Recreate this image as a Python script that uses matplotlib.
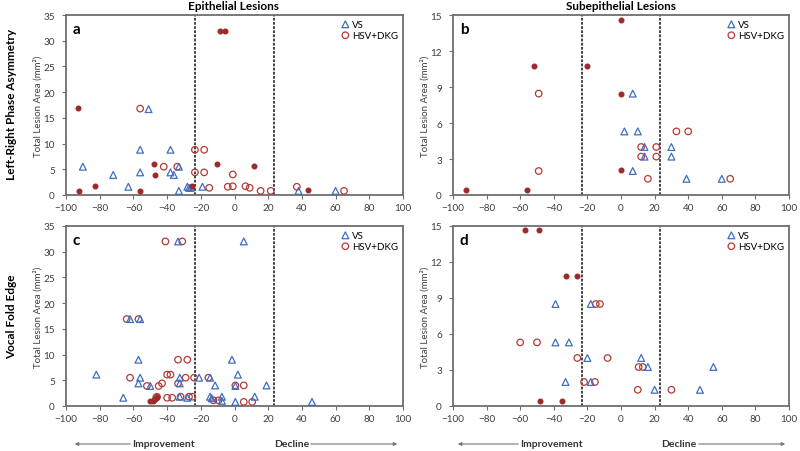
import matplotlib
matplotlib.use("Agg")
import matplotlib.pyplot as plt

plt.rcParams['font.family'] = ['Lato', 'DejaVu Sans']

# ---------------- data ----------------
x_ticks = [-100, -80, -60, -40, -20, 0, 20, 40, 60, 80, 100]
y_ticks_epi = [0, 5, 10, 15, 20, 25, 30, 35]
y_ticks_sub = [0, 3, 6, 9, 12, 15]
thresholds = [-23.3, 23.3]

# Panel a: Left-Right Phase Asymmetry, Epithelial
a_vs_x = [-90, -72, -63, -56, -56, -51, -38, -38, -36, -33, -33, -28, -27, -26, -19, 38, 60]
a_vs_y = [5.5, 3.9, 1.6, 8.8, 4.4, 16.7, 8.8, 4.4, 3.9, 5.5, 0.8, 1.6, 1.4, 1.4, 1.6, 0.8, 0.8]
a_hsv_x = [-56, -42, -34, -23.5, -18, -23.5, -18, -15, -4, -1, -1, 6.5, 9, 15.5, 21.5, 37, 65]
a_hsv_y = [16.8, 5.5, 5.5, 8.8, 8.8, 4.4, 4.4, 1.4, 1.6, 1.7, 4.0, 1.7, 1.4, 0.8, 0.8, 1.6, 0.8]
a_fill_x = [-93, -92, -83, -56, -48, -47, -25.5, -10.5, -8.5, -5.5, 11.5, 43.5]
a_fill_y = [16.9, 0.8, 1.8, 0.8, 6.1, 3.9, 1.8, 6.1, 31.9, 31.9, 5.6, 1.0]

# Panel b: Left-Right Phase Asymmetry, Subepithelial
b_vs_x = [7, 2, 10, 14, 14, 30, 30, 7, 39, 60]
b_vs_y = [8.45, 5.3, 5.3, 4.0, 3.2, 4.0, 3.2, 2.0, 1.35, 1.35]
b_hsv_x = [-49, -49, 12, 12, 21, 21, 16, 33, 40, 65]
b_hsv_y = [8.45, 2.0, 4.0, 3.2, 4.0, 3.2, 1.35, 5.3, 5.3, 1.35]
b_fill_x = [0, -52, -20, 0, 0, -92, -56]
b_fill_y = [14.55, 10.75, 10.75, 8.45, 2.05, 0.45, 0.45]

# Panel c: Vocal Fold Edge, Epithelial
c_vs_x = [-33.5, 5.5, -62, -56, -57, -82, -56, -57, -50, -66, -32.5, -32.5, -32.5, -28,
          -21, -14.5, -11.5, -14.5, -13.5, -7.5, -7.5, -1.5, 2, 0.5, 0.5, 12, 19, 46]
c_vs_y = [32, 32, 16.9, 16.9, 9, 6.1, 5.5, 4.4, 3.9, 1.6, 5.5, 4.4, 1.8, 1.6,
          5.5, 5.5, 4.0, 1.8, 1.5, 1.8, 1.0, 9, 6.1, 3.9, 0.8, 1.8, 4.0, 0.8]
c_hsv_x = [-41, -31, -64, -57, -33.5, -28, -62, -40, -38, -29, -24, -15.5, -43, -45, -52,
           -33.5, -46.5, -46, -40, -37, -32, -27, -25, 0.5, 5.5, -12.5, -9.5, 5.5, 10.5]
c_hsv_y = [32, 32, 16.9, 16.9, 9, 9, 5.5, 6.1, 6.1, 5.5, 5.5, 5.5, 4.4, 3.9, 3.9,
           4.4, 1.6, 1.8, 1.6, 1.6, 1.8, 1.8, 1.8, 4.0, 4.0, 1.1, 1.1, 0.8, 0.8]
c_fill_x = [-50, -48.5, -47.5, -46.5, -46]
c_fill_y = [0.9, 0.9, 1.2, 1.5, 1.7]

# Panel d: Vocal Fold Edge, Subepithelial
d_vs_x = [-39, -18, -39, -31, -20, 12, 16, 55, -33, -18, 20, 47]
d_vs_y = [8.5, 8.5, 5.3, 5.3, 4.0, 4.0, 3.25, 3.25, 2.0, 2.0, 1.35, 1.35]
d_hsv_x = [-15, -12.5, -60, -50, -26, -8, 10.5, 13, -22, -15.5, 10, 30]
d_hsv_y = [8.5, 8.5, 5.3, 5.3, 4.0, 4.0, 3.25, 3.25, 2.0, 2.0, 1.35, 1.35]
d_fill_x = [-57, -49, -33, -26, -48, -35]
d_fill_y = [14.65, 14.65, 10.8, 10.8, 0.45, 0.45]

# ---------------- style ----------------
BLUE = '#3F6EC2'
RED = '#B23A36'
FILL = '#9E2B2B'
SPINE = '#6E6E6E'
TXT = '#404040'

fig = plt.figure(figsize=(8, 4.52), dpi=100)

W, H = 800.0, 452.0
def rect(l, r, t, b):
    return [l / W, 1 - b / H, (r - l) / W, (b - t) / H]

ax_a = fig.add_axes(rect(66, 403, 16, 196))
ax_b = fig.add_axes(rect(453, 789, 16, 196))
ax_c = fig.add_axes(rect(66, 403, 227, 407))
ax_d = fig.add_axes(rect(453, 789, 227, 407))

panels = [
    (ax_a, 'a', a_vs_x, a_vs_y, a_hsv_x, a_hsv_y, a_fill_x, a_fill_y, y_ticks_epi),
    (ax_b, 'b', b_vs_x, b_vs_y, b_hsv_x, b_hsv_y, b_fill_x, b_fill_y, y_ticks_sub),
    (ax_c, 'c', c_vs_x, c_vs_y, c_hsv_x, c_hsv_y, c_fill_x, c_fill_y, y_ticks_epi),
    (ax_d, 'd', d_vs_x, d_vs_y, d_hsv_x, d_hsv_y, d_fill_x, d_fill_y, y_ticks_sub),
]

for ax, letter, vx, vy, hx, hy, fx, fy, yt in panels:
    ax.set_xlim(-100, 100)
    ax.set_ylim(yt[0], yt[-1])
    ax.set_xticks(x_ticks)
    ax.set_yticks(yt)
    ax.tick_params(labelsize=7.2, length=3, width=0.8, direction='out',
                   colors=SPINE, labelcolor=TXT)
    ax.tick_params(axis='x', pad=3)
    ax.tick_params(axis='y', pad=5)
    for s in ax.spines.values():
        s.set_color(SPINE)
        s.set_linewidth(1.3)
    for t in thresholds:
        ax.axvline(t, color='#333333', lw=1.3, ls=(0, (1.5, 0.8)), zorder=1)
    ax.scatter(hx, hy, s=22, facecolors='none', edgecolors=RED, linewidths=0.9,
               label='HSV+DKG', zorder=3)
    ax.scatter(vx, vy, s=24, marker='^', facecolors='none', edgecolors=BLUE,
               linewidths=0.9, label='VS', zorder=3)
    ax.scatter(fx, fy, s=11, color=FILL, zorder=4)
    ax.text(0.02, 0.96, letter, transform=ax.transAxes, fontsize=11,
            fontweight='bold', va='top', ha='left')
    h, l = ax.get_legend_handles_labels()
    ax.legend([h[1], h[0]], [l[1], l[0]], loc='upper right', frameon=False,
              fontsize=7, handletextpad=0.2, borderaxespad=0.3,
              labelspacing=0.2, handlelength=1.0, borderpad=0.2)
    ax.set_ylabel('Total Lesion Area (mm²)', fontsize=7, labelpad=0.5, color=TXT)

fig.text(234 / W, 1 - 7 / H, 'Epithelial Lesions', ha='center', va='center',
         fontsize=8.5, fontweight='bold')
fig.text(621 / W, 1 - 7 / H, 'Subepithelial Lesions', ha='center', va='center',
         fontsize=8.5, fontweight='bold')
fig.text(12 / W, 1 - 104 / H, 'Left-Right Phase Asymmetry', rotation=90,
         ha='center', va='center', fontsize=8.5, fontweight='bold')
fig.text(12 / W, 1 - 317 / H, 'Vocal Fold Edge', rotation=90,
         ha='center', va='center', fontsize=8.5, fontweight='bold')

# Improvement / Decline annotations
yb = 1 - 445 / H
for (a0, a1, ti, td, d0, d1) in [(72, 133, 163, 292, 308, 400),
                                  (455, 521, 551, 679, 696, 788)]:
    fig.text(ti / W, yb, 'Improvement', ha='center', va='center', fontsize=7.5,
             fontweight='bold', color='#333333')
    fig.text(td / W, yb, 'Decline', ha='center', va='center', fontsize=7.5,
             fontweight='bold', color='#333333')
    fig.add_artist(matplotlib.patches.FancyArrowPatch(
        (a1 / W, yb), (a0 / W, yb), transform=fig.transFigure,
        arrowstyle='-|>', mutation_scale=5, color='#777777', lw=0.8))
    fig.add_artist(matplotlib.patches.FancyArrowPatch(
        (d0 / W, yb), (d1 / W, yb), transform=fig.transFigure,
        arrowstyle='-|>', mutation_scale=5, color='#777777', lw=0.8))

fig.savefig('out.png', dpi=100)
